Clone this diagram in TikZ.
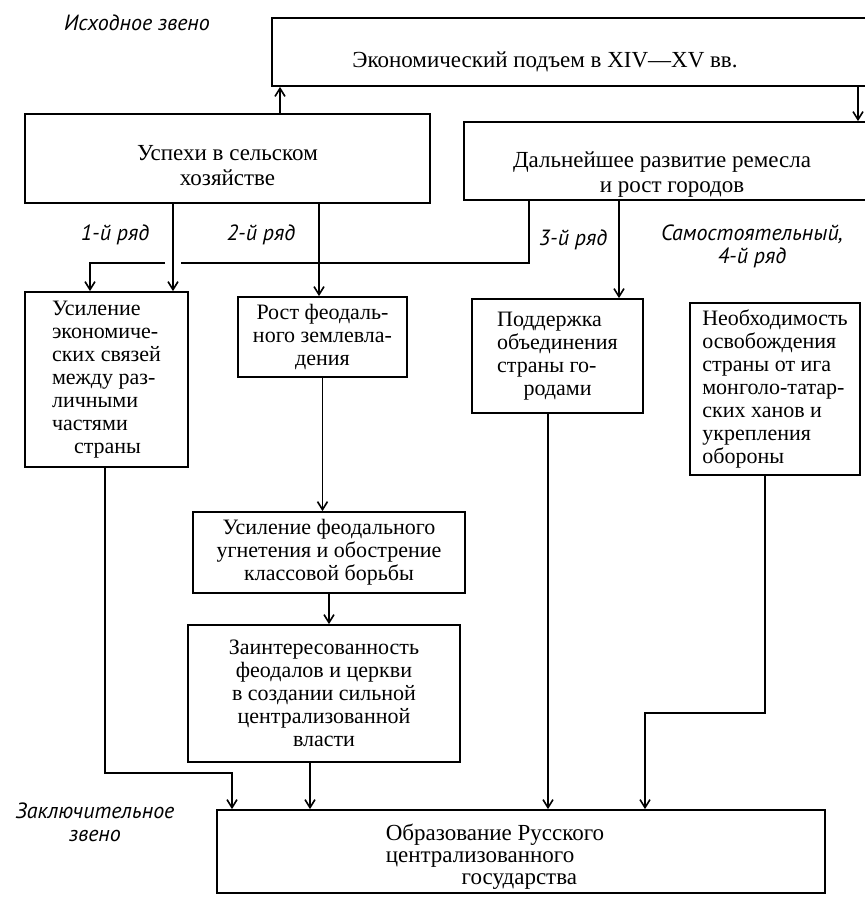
\documentclass[tikz,border=0pt]{standalone}
\usepackage{fontspec}
\setmainfont{Liberation Serif}
\newfontfamily\labelfont{PT Sans}
\usetikzlibrary{arrows.meta, positioning}

\begin{document}
\begin{tikzpicture}[
  x=0.5pt, y=-0.5pt,
  box/.style={draw, line width=0.9pt, inner xsep=3pt, inner ysep=2pt, font=\fontsize{11}{11.5}\selectfont},
  tallbox/.style={box, inner ysep=0pt, align=center, font=\fontsize{11.5}{12.5}\selectfont},
  tag/.style={font=\labelfont\itshape\fontsize{11}{11.5}\selectfont, align=center, inner sep=1pt},
  arr/.style={-{Straight Barb[length=4pt, width=5pt]}, line width=0.8pt},
  wire/.style={line width=0.8pt}
]
\useasboundingbox (0,0) rectangle (864,905);

% boxes
\node[tallbox, minimum width=304pt] (rise) at (576,52) {\rule[-9.5pt]{0pt}{34pt}Экономический подъем в XIV—XV вв.\hspace*{31pt}};
\node[tallbox, minimum width=202.5pt] (uspekhi) at (227.5,158.5) {\rule{0pt}{23pt}Успехи в сельском\\хозяйстве\rule[-9pt]{0pt}{9pt}};
\node[tallbox, minimum width=208pt] (ddev) at (672,161) {\rule{0pt}{22.5pt}Дальнейшее развитие ремесла\hspace*{10pt}\\и рост городов\rule[-4pt]{0pt}{4pt}};
\node[box, minimum width=81.5pt, minimum height=87.5pt, align=left] (svyazi) at (106.5,379.5) {Усиление\\экономиче-\\ских связей\\между раз-\\личными\\частями\\\hspace*{1em}страны};
\node[box, minimum width=84.5pt, minimum height=40pt, align=center] (rost) at (322.5,337) {Рост феодаль-\\ного землевла-\\дения};
\node[box, minimum width=85.5pt, minimum height=57pt, align=left] (podd) at (557.5,356) {Поддержка\\объединения\\страны го-\\\hspace*{1.2em}родами};
\node[box, minimum width=85pt, minimum height=86pt, align=left] (nuzhda) at (775,389) {Необходимость\\освобождения\\страны от ига\\монголо-татар-\\ских ханов и\\укрепления\\обороны};
\node[box, minimum width=136pt, minimum height=40.5pt, align=center] (ugnet) at (329,552.5) {Усиление феодального\\угнетения и обострение\\классовой борьбы};
\node[box, minimum width=136pt, minimum height=68.5pt, align=center] (interes) at (324,693.5) {Заинтересованность\\феодалов и церкви\\в создании сильной\\централизованной\\власти};
\node[box, minimum width=304pt, inner ysep=0pt, align=left, font=\fontsize{11.5}{11}\selectfont] (obraz) at (521,851.5) {\rule{0pt}{15pt}Образование Русского\hspace*{26pt}\\централизованного\\\hspace*{3.3em}государства\rule[-4.5pt]{0pt}{4.5pt}};

% labels
\node[tag] (start) at (137,23) {Исходное звено};
\node[tag] (row1) at (115,235) {1-й ряд};
\node[tag] (row2) at (261,235) {2-й ряд};
\node[tag] (row3) at (573,240) {3-й ряд};
\node[tag] (row4) at (752,246) {Самостоятельный,\\4-й ряд};
\node[tag] (finish) at (95,822) {Заключительное\\звено};

% rails
\coordinate (r0) at (280,0);
\coordinate (rdown) at (858,0);
\coordinate (r1) at (173,0);
\coordinate (r1b) at (90,0);
\coordinate (r2) at (319,0);
\coordinate (r3a) at (529,0);
\coordinate (r3) at (619,0);
\coordinate (r5) at (310,0);
\coordinate (r6) at (105,0);
\coordinate (r7) at (548,0);
\coordinate (r8) at (765,0);
\coordinate (gapR) at (181,263);
\coordinate (gapL) at (165,263);
\coordinate (kA) at (232,773);
\coordinate (kB) at (645,713);

\draw[arr] (uspekhi.north -| r0) -- (rise.south -| r0);
\draw[arr] (rise.south -| rdown) -- (ddev.north -| rdown);
\draw[arr] (uspekhi.south -| r1) -- (svyazi.north -| r1);
\draw[arr] (uspekhi.south -| r2) -- (rost.north -| r2);
\draw[wire] (ddev.south -| r3a) |- (gapR);
\draw[arr] (gapL) -| (svyazi.north -| r1b);
\draw[arr] (ddev.south -| r3) -- (podd.north -| r3);
\draw[arr] (rost.south) -- (rost.south |- ugnet.north);
\draw[arr] (ugnet.south) -- (ugnet.south |- interes.north);
\draw[arr] (interes.south -| r5) -- (obraz.north -| r5);
\draw[arr] (svyazi.south -| r6) |- (kA) -- (kA |- obraz.north);
\draw[arr] (podd.south -| r7) -- (obraz.north -| r7);
\draw[arr] (nuzhda.south -| r8) |- (kB) -- (kB |- obraz.north);
\end{tikzpicture}
\end{document}
